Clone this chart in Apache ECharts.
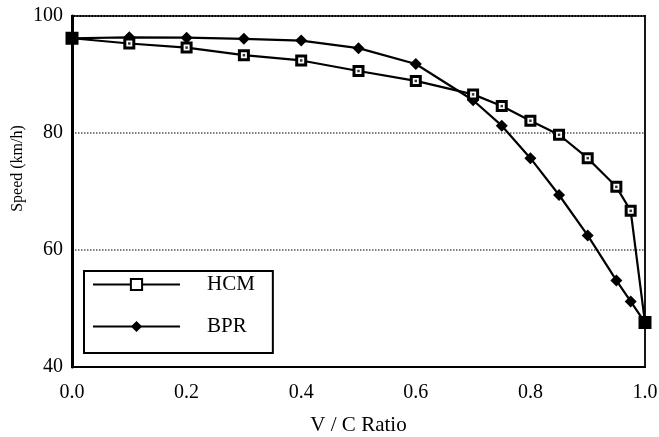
<!DOCTYPE html>
<html>
<head>
<meta charset="utf-8">
<script src="https://cdn.jsdelivr.net/npm/echarts@6/dist/echarts.min.js"></script>
<style>html,body{margin:0;padding:0;background:#fff}#c{width:659px;height:437px}</style>
</head>
<body>
<div id="c"></div>
<script>
const xTicks = [0.0, 0.2, 0.4, 0.6, 0.8, 1.0];
const yTicks = [40, 60, 80, 100];
const hcmX = [0, 0.1, 0.2, 0.3, 0.4, 0.5, 0.6, 0.7, 0.75, 0.8, 0.85, 0.9, 0.95, 0.975, 1.0];
const hcmY = [96.2, 95.3, 94.6, 93.3, 92.4, 90.6, 88.9, 86.6, 84.6, 82.1, 79.7, 75.7, 70.8, 66.7, 47.6];
const bprX = [0, 0.1, 0.2, 0.3, 0.4, 0.5, 0.6, 0.7, 0.75, 0.8, 0.85, 0.9, 0.95, 0.975, 1.0];
const bprY = [96.2, 96.35, 96.3, 96.1, 95.8, 94.5, 91.8, 85.6, 81.25, 75.7, 69.4, 62.5, 54.8, 51.2, 47.6];

const font = 'Liberation Serif';
const hcmData = hcmX.map((x, i) => {
  const end = (i === 0 || i === hcmX.length - 1);
  return end ? {value: [x, hcmY[i]], itemStyle: {color: '#000'}, symbolSize: 10} : [x, hcmY[i]];
});
const bprData = bprX.map((x, i) => [x, bprY[i]]);
const hcmDots = hcmX.map((x, i) => [x, hcmY[i]]);

const chart = echarts.init(document.getElementById('c'), null, {renderer: 'canvas'});
chart.setOption({
  animation: false,
  backgroundColor: '#fff',
  grid: {left: 72, right: 14, top: 16, bottom: 70, containLabel: false, outerBoundsMode: 'none',
         show: true, borderColor: '#000', borderWidth: 1.8, backgroundColor: 'transparent'},
  xAxis: {
    type: 'value', min: 0, max: 1, interval: 0.2,
    name: 'V / C Ratio', nameLocation: 'middle', nameGap: 48,
    nameTextStyle: {fontFamily: font, fontSize: 21, color: '#000'},
    axisLine: {lineStyle: {color: '#000', width: 2}},
    axisTick: {show: false},
    splitLine: {show: false},
    axisLabel: {fontFamily: font, fontSize: 20, color: '#000', margin: 16, formatter: v => v.toFixed(1)}
  },
  yAxis: {
    type: 'value', min: 40, max: 100, interval: 20,
    name: 'Speed (km/h)', nameLocation: 'middle', nameGap: 46, nameMoveOverlap: false,
    nameTextStyle: {fontFamily: font, fontSize: 16, color: '#000', padding: [0, 0, 0, 46]},
    axisLine: {lineStyle: {color: '#000', width: 3}},
    axisTick: {show: false},
    splitLine: {show: true, lineStyle: {color: '#555', type: 'dotted', width: 1.5}},
    axisLabel: {fontFamily: font, fontSize: 20, color: '#000', margin: 9}
  },
  legend: {
    data: ['HCM', 'BPR'],
    orient: 'vertical', left: 84, top: 271,
    padding: [3, 18, 16, 8],
    itemWidth: 87, itemHeight: 14, itemGap: 21,
    borderColor: '#000', borderWidth: 2, backgroundColor: '#fff',
    textStyle: {fontFamily: font, fontSize: 21, color: '#000', lineHeight: 20, padding: [0, 0, 0, 22]}
  },
  series: [
    {
      name: 'HCM', type: 'line', data: hcmData,
      symbol: 'rect', symbolSize: 9,
      lineStyle: {color: '#000', width: 2.2},
      itemStyle: {color: '#fff', borderColor: '#000', borderWidth: 3},
      z: 3
    },
    {
      name: 'BPR', type: 'line', data: bprData,
      symbol: 'diamond', symbolSize: [12, 12],
      lineStyle: {color: '#000', width: 2.2},
      itemStyle: {color: '#000'},
      z: 2
    },
    {
      name: 'HCMdot', type: 'scatter', data: hcmDots,
      symbol: 'rect', symbolSize: 2.5,
      itemStyle: {color: '#000'}, silent: true, z: 4
    }
  ]
});
</script>
</body>
</html>
